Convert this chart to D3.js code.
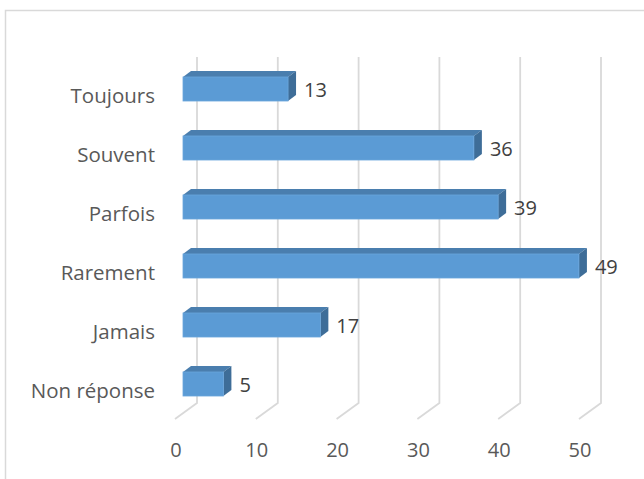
<!DOCTYPE html>
<html><head><meta charset="utf-8">
<script src="https://cdn.jsdelivr.net/npm/d3@7"></script>
<style>body{margin:0;background:#fff}svg{display:block}</style>
</head><body>
<script>
const categories = ["Toujours","Souvent","Parfois","Rarement","Jamais","Non réponse"];
const values = [13,36,39,49,17,5];
const ticks = [0,10,20,30,40,50];

const W=644,H=479;
const svg=d3.select("body").append("svg").attr("width",W).attr("height",H);
const font="'Open Sans', sans-serif";

svg.append("rect").attr("x",5.5).attr("y",10.5).attr("width",700).attr("height",600)
  .attr("fill","#fff").attr("stroke","#d9d9d9").attr("stroke-width",1.5);

const xb=d3.scaleLinear().domain([0,50]).range([197,601]);
const floorD={dx:-22,dy:16};
const barFront=-14;
const depth={dx:8,dy:-6};
const wallTop=57, wallBottom=403;

const y=d3.scaleBand().domain(categories).range([59.5,413.5]).paddingInner(0.593).paddingOuter(0.2965);

const g=svg.append("g");
ticks.forEach(t=>{
  const x=xb(t);
  g.append("path").attr("d",`M${x},${wallTop}L${x},${wallBottom}L${x+floorD.dx},${wallBottom+floorD.dy}`)
    .attr("fill","none").attr("stroke","#d9d9d9").attr("stroke-width",1.8);
  svg.append("text").attr("x",x+floorD.dx+1).attr("y",457).attr("text-anchor","middle")
    .attr("font-family",font).attr("font-size",20).attr("fill","#595959").text(t);
});

const bars=svg.append("g");
categories.forEach((c,i)=>{
  const v=values[i];
  const x0=xb(0)+barFront, x1=xb(v)+barFront;
  const y0=y(c), h=y.bandwidth();
  const dx=depth.dx, dy=depth.dy;
  bars.append("path").attr("d",`M${x0},${y0}L${x0+dx},${y0+dy}L${x1+dx},${y0+dy}L${x1},${y0}Z`).attr("fill","#4a7eae");
  bars.append("path").attr("d",`M${x1},${y0}L${x1+dx},${y0+dy}L${x1+dx},${y0+h+dy}L${x1},${y0+h}Z`).attr("fill","#3e6d98");
  bars.append("rect").attr("x",x0).attr("y",y0).attr("width",x1-x0).attr("height",h).attr("fill","#5b9bd5")
    .attr("stroke","#6aa6dc").attr("stroke-width",0.8);
  svg.append("text").attr("x",x1+16).attr("y",y0+h/2+1).attr("dy","0.35em")
    .attr("font-family",font).attr("font-size",20).attr("fill","#404040").text(v);
  svg.append("text").attr("x",155).attr("y",y0+h/2+7).attr("dy","0.35em").attr("text-anchor","end")
    .attr("font-family",font).attr("font-size",20.5).attr("fill","#595959").text(c);
});
</script>
</body></html>
